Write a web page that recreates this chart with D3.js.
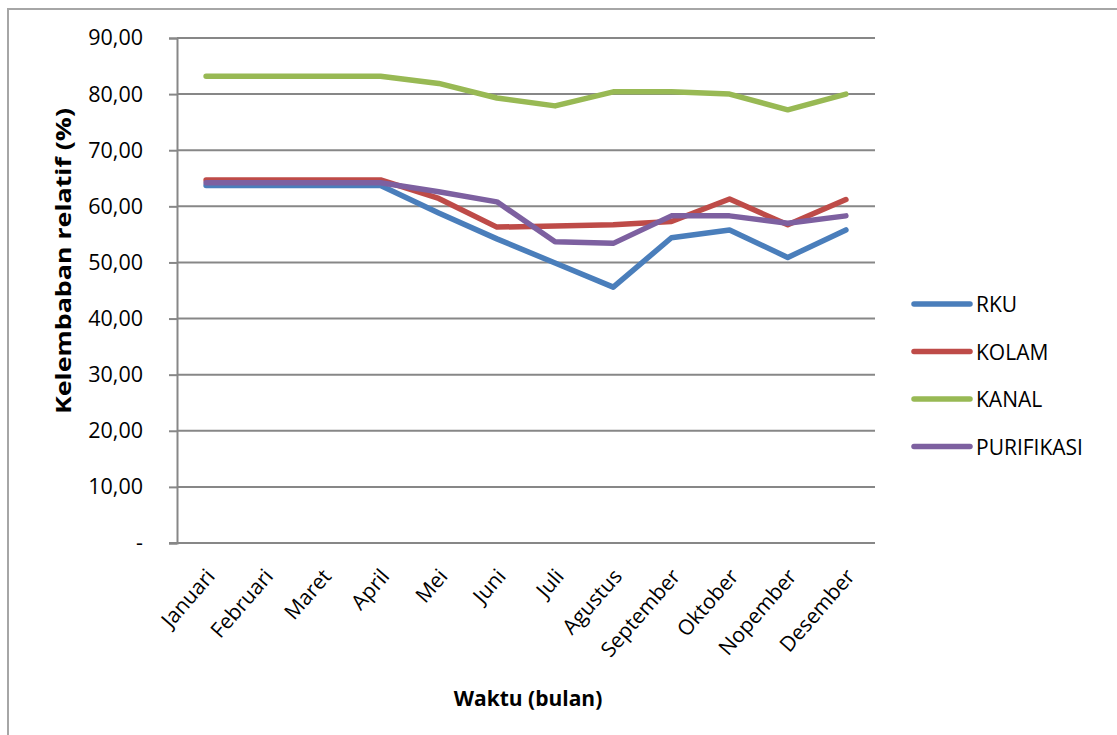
<!DOCTYPE html>
<html>
<head>
<meta charset="utf-8">
<title>Kelembaban relatif</title>
<script src="https://cdn.jsdelivr.net/npm/d3@7/dist/d3.min.js"></script>
<style>
  body { margin: 0; background: #fff; }
  svg { display: block; font-family: "Open Sans", sans-serif; }
</style>
</head>
<body>
<svg width="1117" height="735"></svg>
<script>
// data
var months = ["Januari", "Februari", "Maret", "April", "Mei", "Juni", "Juli",
  "Agustus", "September", "Oktober", "Nopember", "Desember"];
var rku        = [63.7, 63.7, 63.7, 63.7, 58.8, 54.2, 49.9, 45.6, 54.4, 55.8, 50.9, 55.8];
var kolam      = [64.7, 64.7, 64.7, 64.7, 61.4, 56.3, 56.5, 56.7, 57.3, 61.3, 56.7, 61.2];
var kanal      = [83.2, 83.2, 83.2, 83.2, 81.9, 79.3, 77.9, 80.4, 80.4, 80.0, 77.2, 80.0];
var purifikasi = [64.2, 64.2, 64.2, 64.2, 62.6, 60.8, 53.7, 53.4, 58.3, 58.3, 57.0, 58.3];
var seriesNames = ["RKU", "KOLAM", "KANAL", "PURIFIKASI"];
var seriesColors = ["#4a7ebb", "#be4b48", "#98b954", "#7d60a0"];
var yTicks = [0, 10, 20, 30, 40, 50, 60, 70, 80, 90];

var series = [rku, kolam, kanal, purifikasi];

var svg = d3.select("svg");
var plotL = 177, plotR = 875, plotT = 38, plotB = 543;

// outer chart border (runs off the right/bottom edge like the picture)
svg.append("rect")
  .attr("x", 8).attr("y", 9)
  .attr("width", 1140).attr("height", 760)
  .attr("fill", "none")
  .attr("stroke", "#a6a6a6")
  .attr("stroke-width", 2);

var x = d3.scaleBand().domain(months).range([plotL, plotR]);
var y = d3.scaleLinear().domain([0, 90]).range([plotB, plotT]);

//gridlines
svg.append("g")
  .selectAll("line")
  .data(yTicks.filter(function(d) { return d > 0; }))
  .enter().append("line")
  .attr("x1", plotL).attr("x2", plotR)
  .attr("y1", function(d) { return y(d); })
  .attr("y2", function(d) { return y(d); })
  .attr("stroke", "#878787")
  .attr("stroke-width", 2);

// y axis
var yAxis = svg.append("g")
  .attr("transform", "translate(" + plotL + ",0)")
  .call(d3.axisLeft(y).tickValues(yTicks).tickSize(8).tickPadding(26)
    .tickFormat(function(d) { return d === 0 ? "-" : d3.format(".2f")(d).replace(".", ","); }));
yAxis.selectAll("line").attr("stroke", "#878787").attr("stroke-width", 2);
yAxis.select(".domain").attr("stroke", "#878787").attr("stroke-width", 2);
yAxis.selectAll("text")
  .attr("font-family", "Open Sans")
  .attr("font-size", 21.5)
  .attr("fill", "#000");

// x axis
var xAxis = svg.append("g")
  .attr("transform", "translate(0," + plotB + ")")
  .call(d3.axisBottom(x).tickSize(0).tickPadding(0));
xAxis.select(".domain").attr("stroke", "#878787").attr("stroke-width", 2)
  .attr("d", "M" + (plotL - 8) + ",0H" + plotR);
xAxis.selectAll("text")
  .attr("font-family", "Open Sans")
  .attr("font-size", 21)
  .attr("fill", "#000")
  .attr("text-anchor", "end")
  .attr("dy", 0)
  .attr("transform", "translate(10,34) rotate(-49)");

// lines
var line = d3.line()
  .x(function(d, i) { return x(months[i]) + x.bandwidth() / 2; })
  .y(function(d) { return y(d); });

series.forEach(function(s, k) {
  svg.append("path")
    .datum(s)
    .attr("d", line)
    .attr("fill", "none")
    .attr("stroke", seriesColors[k])
    .attr("stroke-width", 5.5)
    .attr("stroke-linejoin", "round")
    .attr("stroke-linecap", "round");
});

// legend
var legend = svg.append("g").selectAll("g")
  .data(seriesNames)
  .enter().append("g")
  .attr("transform", function(d, i) { return "translate(914," + (304 + i * 47.5) + ")"; });
legend.append("line")
  .attr("x1", 0).attr("x2", 56)
  .attr("stroke", function(d, i) { return seriesColors[i]; })
  .attr("stroke-width", 5.5)
  .attr("stroke-linecap", "round");
legend.append("text")
  .attr("x", 62).attr("y", 8)
  .attr("font-size", 21)
  .text(function(d) { return d; });

// axis titles
svg.append("text")
  .attr("transform", "translate(71,261) rotate(-90)")
  .attr("text-anchor", "middle")
  .attr("font-size", 22)
  .attr("font-weight", "bold")
  .attr("textLength", 306)
  .attr("lengthAdjust", "spacingAndGlyphs")
  .text("Kelembaban relatif (%)");

svg.append("text")
  .attr("x", 528).attr("y", 706)
  .attr("text-anchor", "middle")
  .attr("font-size", 21)
  .attr("font-weight", "bold")
  .text("Waktu (bulan)");
</script>
</body>
</html>
